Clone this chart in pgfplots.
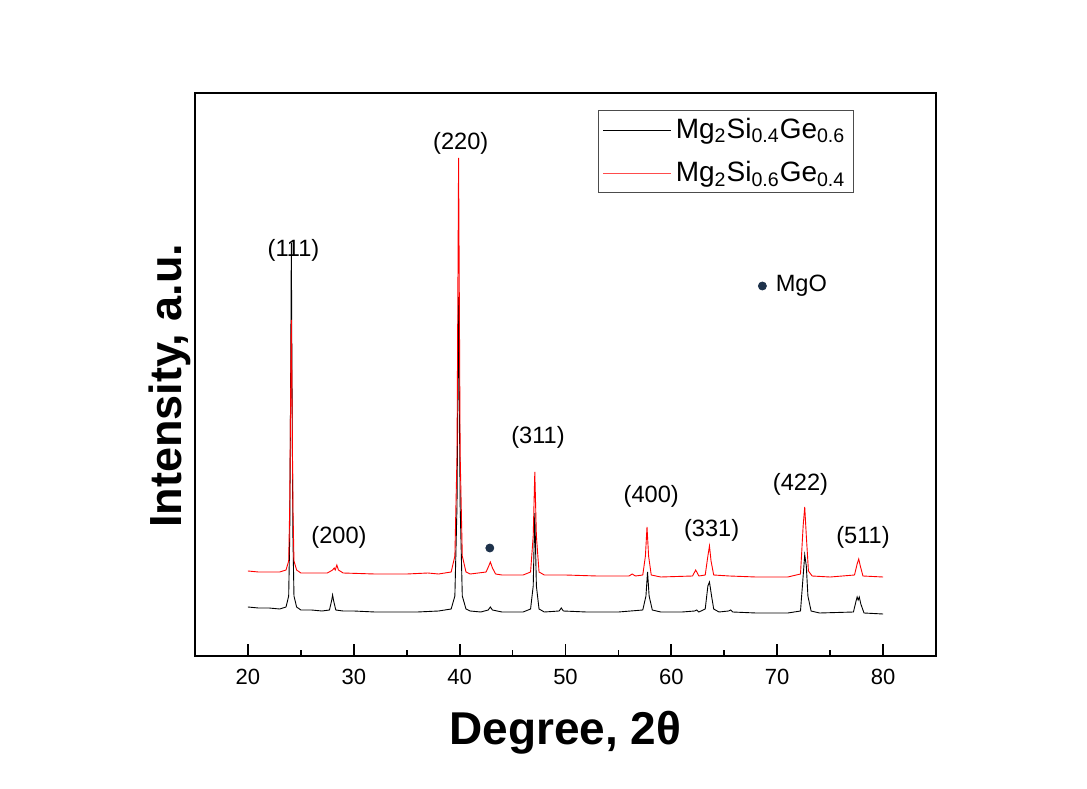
\documentclass[border=0pt]{standalone}
\usepackage{fontspec}
\setmainfont{Liberation Sans}
\usepackage{pgfplots}
\pgfplotsset{compat=1.18}

\definecolor{mgodot}{RGB}{30,50,75}

\begin{document}
\begin{tikzpicture}[x=1pt,y=1pt]
\path[use as bounding box] (-97.5,-66) rectangle (446,328);
\begin{axis}[
	at={(0,0)}, anchor=south west,
	scale only axis, width=370.5pt, height=281.5pt,
	xmin=15, xmax=85, ymin=0, ymax=563,
	axis line style={line width=1pt},
	xtick={20,30,...,80}, minor xtick={25,35,...,75},
	ytick=\empty,
	tick pos=bottom, tick align=inside,
	major tick length=6pt, minor tick length=3pt,
	every tick/.style={line width=0.9pt, black},
	/pgf/number format/assume math mode=true,
	ticklabel style={font=\fontsize{11}{13}\selectfont},
	xticklabel style={yshift=-3pt},
	xlabel={\textbf{Degree, 2θ}},
	xlabel style={font=\fontsize{23}{26}\selectfont, at={(axis description cs:0.5,-0.137)}, anchor=center},
	ylabel={\textbf{Intensity, a.u.}},
	ylabel style={font=\fontsize{22.5}{26}\selectfont, at={(axis description cs:-0.034,0.48)}, anchor=center, rotate=0},
	legend style={at={(axis description cs:0.544,0.97)}, anchor=north west, draw=black!70, line width=0.5pt,
		font=\fontsize{14}{15}\selectfont, inner sep=2pt, row sep=6pt, cells={anchor=west}},
	clip=false,
	]
	\addplot[draw=black, line width=0.45pt,
		legend image code/.code={\draw[black, line width=0.5pt] (0pt,0pt) -- (34pt,0pt);}] coordinates {
		(20,49) (21,48) (22,48) (23,47) (23.6,49) (23.85,60) (23.95,120) (24.05,300) (24.1,413) (24.15,300) (24.25,120) (24.35,60) (24.6,49)
		(25,46) (26,46) (27,45) (27.7,46) (27.9,55) (28,61) (28.1,55) (28.3,46) (29,45) (30,45) (32,44) (34,44) (36,44) (38,45)
		(39.2,47) (39.55,60) (39.75,150) (39.9,359) (40.05,150) (40.25,60) (40.6,47) (41,45) (42,44) (42.7,46) (42.9,49) (43.1,46)
		(44,44) (46,44) (46.7,47) (46.95,70) (47.1,143) (47.25,70) (47.5,47) (48,44) (49.4,45) (49.6,48) (49.8,45) (52,44) (55,44)
		(57.3,46) (57.6,60) (57.75,84) (57.9,60) (58.2,46) (59,44) (61,44) (62.2,45) (62.4,46) (62.6,44) (63.2,47) (63.45,70)
		(63.6,74) (63.8,60) (64,47) (64.5,44) (65.4,45) (65.6,46) (65.8,44) (68,43) (71,43) (72.2,45) (72.45,80) (72.6,101)
		(72.75,90) (72.9,60) (73.2,45) (74,43) (77.2,44) (77.45,55) (77.55,59) (77.65,56) (77.75,59) (77.9,52) (78.2,43) (80,42)
	};
	\addlegendentry{Mg\textsubscript{2}Si\textsubscript{0.4}Ge\textsubscript{0.6}}
	\addplot[draw=red, line width=0.45pt,
		legend image code/.code={\draw[red!70, line width=0.6pt] (0pt,0pt) -- (34pt,0pt);}] coordinates {
		(20,85) (21,84) (22,84) (23,84) (23.6,86) (23.85,95) (23.95,150) (24.05,280) (24.1,336) (24.15,280) (24.25,150) (24.35,95)
		(24.6,86) (25,83) (26,83) (27.5,83) (28,86) (28.15,88) (28.25,86) (28.4,91) (28.55,86) (29,83) (32,82) (35,82) (37,83)
		(38,82) (39.2,84) (39.55,100) (39.75,200) (39.9,498) (40.05,200) (40.25,100) (40.6,84) (41,82) (42.5,84) (42.75,90)
		(42.9,94) (43.1,88) (43.4,82) (44,81) (46,81) (46.7,84) (46.95,120) (47.1,184) (47.25,120) (47.5,84) (48,81) (50,81)
		(53,80) (56,80) (56.3,82) (56.6,80) (57.3,81) (57.55,100) (57.7,129) (57.85,100) (58.1,81) (59,79) (62,80) (62.3,86)
		(62.6,80) (63.2,81) (63.45,100) (63.6,110) (63.75,95) (64,81) (65.5,80) (68,79) (71,79) (72.2,82) (72.45,130) (72.6,149)
		(72.75,120) (72.95,85) (73.3,80) (75,79) (77.3,81) (77.55,92) (77.7,97) (77.85,90) (78.1,80) (80,79)
	};
	\addlegendentry{Mg\textsubscript{2}Si\textsubscript{0.6}Ge\textsubscript{0.4}}
	\addplot[only marks, mark=*, mark size=2pt, mgodot, forget plot] coordinates {(42.85,108) (68.6,370)};
	\begin{scope}[every node/.style={font=\fontsize{11.8}{13}\selectfont}]
		\node at (axis cs:24.3,406) {(111)};
		\node at (axis cs:28.6,119) {(200)};
		\node at (axis cs:40.1,513) {(220)};
		\node at (axis cs:47.4,219) {(311)};
		\node at (axis cs:58.1,160) {(400)};
		\node at (axis cs:63.8,126) {(331)};
		\node at (axis cs:72.2,172) {(422)};
		\node at (axis cs:78.1,119) {(511)};
		\node[anchor=west] at (axis cs:69.2,370) {MgO};
	\end{scope}
\end{axis}
\end{tikzpicture}
\end{document}
